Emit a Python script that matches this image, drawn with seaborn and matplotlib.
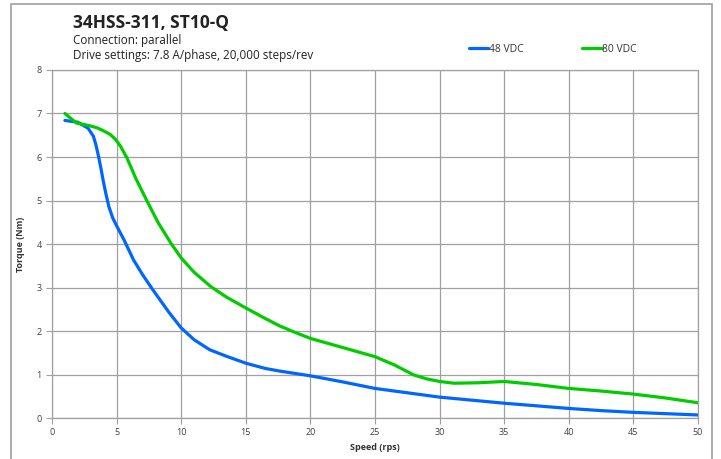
import numpy as np
import pandas as pd
import matplotlib.pyplot as plt
import matplotlib.patches as patches
import seaborn as sns

# 48 VDC curve
speed_48 = [1, 2, 2.8, 3.2, 3.4, 3.6, 3.8, 4.0, 4.2, 4.4, 4.7, 5, 5.6, 6.3, 7.0, 7.8, 9, 10, 11, 12.2, 13.5, 15, 16.5,
            17.6, 20, 22.5, 25, 27.5, 30, 32.5, 35, 37.5, 40, 42.5, 45, 47.5, 50]
torque_48 = [6.84, 6.8, 6.66, 6.48, 6.28, 6.02, 5.72, 5.4, 5.12, 4.86, 4.6, 4.42, 4.08, 3.64, 3.3, 2.95, 2.45, 2.07,
             1.8, 1.57, 1.42, 1.26, 1.14, 1.08, 0.97, 0.83, 0.68, 0.58, 0.48, 0.41, 0.34, 0.28, 0.22, 0.17, 0.13, 0.1, 0.07]

# 80 VDC curve
speed_80 = [1, 1.9, 2.9, 3.5, 4.0, 4.5, 4.9, 5.3, 5.8, 6.5, 7.3, 8.2, 9.2, 10, 11, 12.3, 13.5, 15, 16.3, 17.6, 18.8,
            20, 22.5, 25, 26.5, 28, 29, 30, 31.1, 33, 35, 37.5, 40, 42.5, 45, 47.5, 50]
torque_80 = [7.0, 6.78, 6.72, 6.67, 6.6, 6.52, 6.41, 6.25, 5.98, 5.5, 5.02, 4.5, 4.02, 3.68, 3.35, 3.02, 2.78, 2.53,
             2.32, 2.12, 1.97, 1.83, 1.62, 1.41, 1.22, 0.99, 0.9, 0.84, 0.80, 0.81, 0.84, 0.77, 0.68, 0.62, 0.55, 0.46, 0.35]

series_names = ['48 VDC', '80 VDC']
series_colors = ['#0066ff', '#00cc00']

df = pd.concat([
    pd.DataFrame({'speed': speed_48, 'torque': torque_48, 'series': series_names[0]}),
    pd.DataFrame({'speed': speed_80, 'torque': torque_80, 'series': series_names[1]}),
])

sns.set_style('white')
plt.rcParams['font.family'] = ['Open Sans', 'DejaVu Sans']

fig = plt.figure(figsize=(7.21, 4.59), dpi=100)
ax = fig.add_axes([0.0721, 0.0893, 0.896, 0.7582])

sns.lineplot(data=df, x='speed', y='torque', hue='series', palette=series_colors,
             linewidth=2.3, ax=ax, sort=False)

ax.set_xlim(0, 50)
ax.set_ylim(0, 8)
ax.set_xticks(range(0, 51, 5))
ax.set_yticks(range(0, 9))
ax.grid(True, color='#a0a0a0', linewidth=0.9)
ax.set_axisbelow(True)
for s in ax.spines.values():
    s.set_color('#a0a0a0')
    s.set_linewidth(0.9)
ax.tick_params(axis='both', labelsize=6.5, colors='#404040', length=4, width=0.8,
               direction='out', bottom=True, left=True)
ax.tick_params(axis='both', color='#a0a0a0')
ax.set_xlabel('Speed (rps)', fontsize=6.5, fontweight='bold', color='#333333', labelpad=4)
ax.set_ylabel('Torque (Nm)', fontsize=6.5, fontweight='bold', color='#333333', labelpad=8)

sns.move_legend(ax, 'center left', bbox_to_anchor=(0.637, 0.893), bbox_transform=fig.transFigure,
                ncol=2, frameon=False, title=None, fontsize=7.5, handlelength=1.9,
                handletextpad=0.05, columnspacing=5.6)
for t in ax.get_legend().get_texts():
    t.set_color('#333333')

fig.text(0.101, 0.939, '34HSS-311, ST10-Q', fontsize=12.5, fontweight='bold', color='#222222', va='baseline')
fig.text(0.101, 0.904, 'Connection: parallel', fontsize=8.4, color='#222222', va='baseline')
fig.text(0.101, 0.872, 'Drive settings: 7.8 A/phase, 20,000 steps/rev', fontsize=8.4, color='#222222', va='baseline')

# outer frame
fig.patches.append(patches.Rectangle((11 / 721, -0.01), 701 / 721, 1 - 4 / 459 + 0.01,
                                     transform=fig.transFigure, fill=False,
                                     edgecolor='#a0a0a0', linewidth=1.2))

fig.savefig('out.png', dpi=100)
